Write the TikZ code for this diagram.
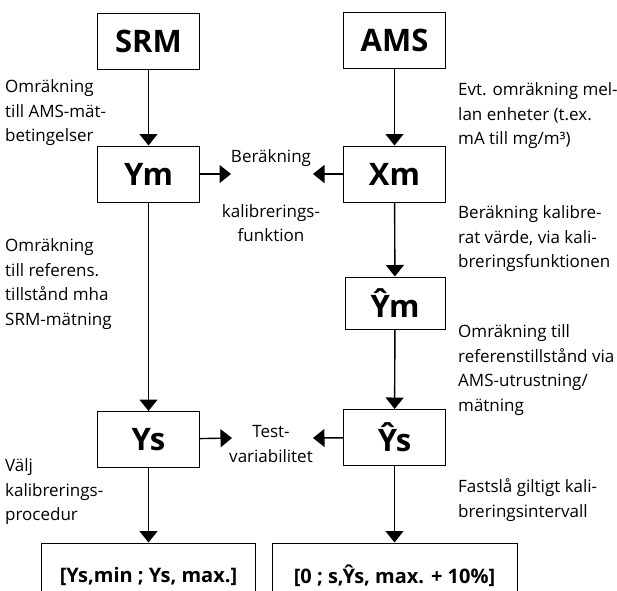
\documentclass[tikz,border=0pt]{standalone}
\usepackage{fontspec}
\setmainfont{Open Sans}
\usetikzlibrary{arrows.meta}
\tikzset{
  box/.style={draw, line width=1pt, minimum width=102pt, minimum height=56pt, inner sep=0pt,
    font=\fontsize{31}{31}\selectfont\bfseries},
  rangebox/.style={draw, line width=1pt, minimum height=66pt, inner sep=0pt,
    font=\fontsize{20}{20}\selectfont\bfseries},
  note/.style={align=left, anchor=west, inner sep=0pt, font=\fontsize{17}{24.5}\selectfont},
  midnote/.style={align=center, inner sep=0pt, font=\fontsize{17}{24.5}\selectfont},
  flow/.style={line width=1.4pt, -{Triangle[width=18pt,length=11.5pt]}}
}
\begin{document}
\begin{tikzpicture}[x=1pt,y=-1pt]
				\useasboundingbox (0,0) rectangle (617,590);
				\clip (0,0) rectangle (617,590);
				
				% boxes
				\node[box] (srm) at (148.5,41) {SRM};
				\node[box] (ams) at (394.5,40) {AMS};
				\node[box] (ym) at (148.5,174) {Ym};
				\node[box] (xm) at (394.5,174) {Xm};
				\node[box, minimum width=100pt, minimum height=52pt] (yhm) at (395,303) {Ŷm};
				\node[box] (ys) at (148.5,439.5) {Ys};
				\node[box] (yhs) at (394.5,437.5) {Ŷs};
				\node[rangebox, minimum width=214pt] (rangeL) at (148.5,576) {[Ys,min ; Ys, max.]};
				\node[rangebox, minimum width=245pt] (rangeR) at (394.5,576) {[0 ; s,Ŷs, max. + 10\%]};
				
				% vertical flow
				\draw[flow] (srm) -- (ym);
				\draw[flow] (ym) -- (ys);
				\draw[flow] (ys) -- (rangeL);
				\draw[flow] (ams) -- (xm);
				\draw[flow] (xm) -- (yhm);
				\draw[flow] (yhm) -- (yhs);
				\draw[flow] (yhs) -- (rangeR);
				
				% horizontal flow
				\coordinate (calcL) at (231,174);
				\coordinate (calcR) at (313,174);
				\coordinate (testL) at (232,438);
				\coordinate (testR) at (313,438);
				\draw[flow] (ym) -- (calcL);
				\draw[flow] (xm) -- (calcR);
				\draw[flow] (ys) -- (testL);
				\draw[flow] (yhs) -- (testR);
				
				% middle texts
				\node[midnote] (calcA) at (271,158) {Beräkning};
				\node[midnote] (calcB) at (271,223) {kalibrerings-\\funktion};
				\node[midnote] (test) at (271,444) {Test-\\variabilitet};
				
				% left texts
				\node[note] (noteL1) at (5,113) {Omräkning\\till AMS-mät-\\betingelser};
				\node[note] (noteL2) at (5,284) {Omräkning\\till referens.\\tillstånd mha\\SRM-mätning};
				\node[note] (noteL3) at (5,492) {Välj\\kalibrerings-\\procedur};
				
				% right texts
				\node[note] (noteR1) at (458,116) {Evt. omräkning mel-\\lan enheter (t.ex.\\mA till mg/m³)};
				\node[note] (noteR2) at (458,239) {Beräkning kalibre-\\rat värde, via kali-\\breringsfunktionen};
				\node[note] (noteR3) at (458,370) {Omräkning till\\referenstillstånd via\\AMS-utrustning/\\mätning};
				\node[note] (noteR4) at (458,500) {Fastslå giltigt kali-\\breringsintervall};
			\end{tikzpicture}
\end{document}
